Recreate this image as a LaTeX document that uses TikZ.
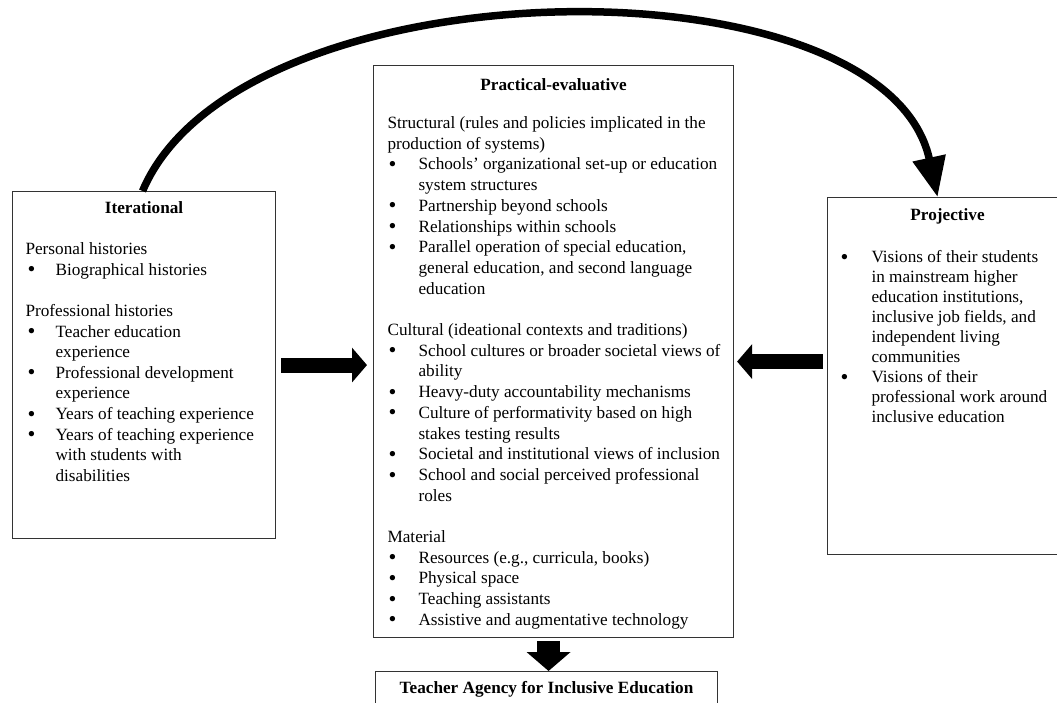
\documentclass[tikz,border=0pt]{standalone}
\usepackage{graphicx}
\usepackage{fontspec}
\setmainfont{Liberation Serif}
\usetikzlibrary{arrows.meta,calc}
\newlength\myBo
\newlength\myTw
\newcommand\BI{\makebox[\myTw][l]{\hspace*{\myBo}\raisebox{-1.6pt}{\scalebox{1.3}{\textbullet}}}}
\newcommand\CI{\hspace*{\myTw}}
\begin{document}
\begin{tikzpicture}[x=1pt,y=-1pt,
  box/.style={draw=black!80,line width=1.1pt,inner sep=0pt,anchor=north west},
  arc arrow/.style={line width=7.5pt,-{Triangle[length=40pt,width=32pt]}},
  block arrow/.style={line width=15pt,-{Triangle[length=15pt,width=34pt]}},
  down arrow/.style={line width=23pt,-{Triangle[length=19pt,width=43pt]}}
]
\useasboundingbox (0,0) rectangle (1057,702);

\node[box] (iter) at (12,191) {\parbox[c][347pt][t]{263pt}{\fontsize{17.2pt}{20.6pt}\selectfont\raggedright\leftskip=13pt\myBo=2pt\myTw=30pt
\rule{0pt}{22pt}\hspace*{-13pt}\makebox[263pt][c]{\bfseries Iterational}\\[20.6pt]
Personal histories\\
\BI Biographical histories\\[20.6pt]
Professional histories\\
\BI Teacher education\\
\CI experience\\
\BI Professional development\\
\CI experience\\
\BI Years of teaching experience\\
\BI Years of teaching experience\\
\CI with students with\\
\CI disabilities}};

\node[box] (prac) at (373,65) {\parbox[c][572pt][t]{360pt}{\fontsize{17.2pt}{20.7pt}\selectfont\raggedright\leftskip=14pt\myBo=1pt\myTw=31pt
\rule{0pt}{25pt}\hspace*{-14pt}\makebox[360pt][c]{\bfseries Practical-evaluative}\\[17.3pt]
Structural (rules and policies implicated in the\\
production of systems)\\
\BI Schools’ organizational set-up or education\\
\CI system structures\\
\BI Partnership beyond schools\\
\BI Relationships within schools\\
\BI Parallel operation of special education,\\
\CI general education, and second language\\
\CI education\\[20.7pt]
Cultural (ideational contexts and traditions)\\
\BI School cultures or broader societal views of\\
\CI ability\\
\BI Heavy-duty accountability mechanisms\\
\BI Culture of performativity based on high\\
\CI stakes testing results\\
\BI Societal and institutional views of inclusion\\
\BI School and social perceived professional\\
\CI roles\\[20.7pt]
Material\\
\BI Resources (e.g., curricula, books)\\
\BI Physical space\\
\BI Teaching assistants\\
\BI Assistive and augmentative technology}};

\node[box] (proj) at (827,197) {\parbox[c][357pt][t]{233pt}{\fontsize{17.2pt}{20pt}\selectfont\raggedright\leftskip=13pt\myBo=0pt\myTw=31pt
\rule{0pt}{23pt}\hspace*{-13pt}\makebox[240pt][c]{\bfseries Projective}\\[22pt]
\BI Visions of their students\\
\CI in mainstream higher\\
\CI education institutions,\\
\CI inclusive job fields, and\\
\CI independent living\\
\CI communities\\
\BI Visions of their\\
\CI professional work around\\
\CI inclusive education}};

\node[box] (agency) at (375,671) {\parbox[c][45pt][t]{342pt}{\centering\fontsize{17.2pt}{20pt}\selectfont\rule{0pt}{22pt}\textbf{Teacher Agency for Inclusive Education}}};

% connectors
\draw[arc arrow] ([xshift=-1.5pt]iter.north) .. controls (240,-39) and (885,-46) .. ([xshift=-6.5pt]proj.north);
\draw[block arrow] ([xshift=5pt]iter.east) -- ([xshift=-6pt]iter.east -| prac.west);
\coordinate (ra) at ([shift={(-4pt,14.5pt)}]proj.west);
\draw[block arrow] (ra) -- ([xshift=3pt]ra -| prac.east);
\draw[down arrow] ([shift={(-5pt,-3pt)}]prac.south) -- ([xshift=-5pt]prac.south |- agency.north);
\end{tikzpicture}
\end{document}
